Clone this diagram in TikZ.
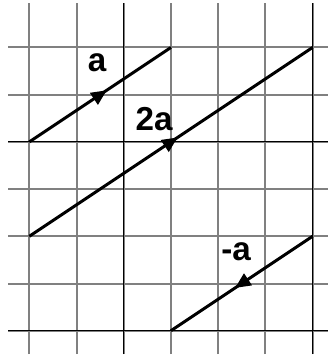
\documentclass[tikz,border=0pt]{standalone}
\usepackage{fontspec}
\setmainfont{Liberation Sans}
\usetikzlibrary{decorations.markings}
\begin{document}
\begin{tikzpicture}[x=1cm,y=1cm,
    gridline/.style={draw=gray,line width=1.2pt},
    darkline/.style={draw=black,line width=0.6pt},
    vec/.style={line width=1.8pt,
      postaction={decorate,decoration={markings,
        mark=at position 0.5 with {\fill (4.7pt,0) -- (-4.5pt,4.4pt) -- (-4.5pt,-4.4pt) -- cycle;}}}},
    vlabel/.style={font=\bfseries\fontsize{20}{20}\selectfont,anchor=base,inner sep=0pt} ]
    \useasboundingbox (-0.621,-0.578) rectangle (6.328,7.006);
    % grid
    \foreach \i in {0,...,6} {
      \draw [gridline] (\i,-0.494) -- (\i,6.943);
      \draw [gridline] (-0.451,\i) -- (6.328,\i);
    }
    \draw [darkline] (-0.451,0) -- (6.328,0);
    \draw [darkline] (-0.451,4) -- (6.328,4);
    \draw [darkline] (2,-0.494) -- (2,6.943);
    \draw [darkline] (6,-0.494) -- (6,6.943);
    % vectors
    \coordinate (A1) at (0,4);
    \coordinate (A2) at (3,6);
    \coordinate (B1) at (0,2);
    \coordinate (B2) at (6,6);
    \coordinate (C1) at (6,2);
    \coordinate (C2) at (3,0);
    \draw [vec] (A1) -- (A2);
    \draw [vec] (B1) -- (B2);
    \draw [vec] (C1) -- (C2);
    \node [vlabel] (la) at (1.434,5.50) {a};
    \node [vlabel] (l2a) at (2.642,4.231) {2a};
    \node [vlabel] (lma) at (4.379,1.498) {-a};
\end{tikzpicture}
\end{document}
